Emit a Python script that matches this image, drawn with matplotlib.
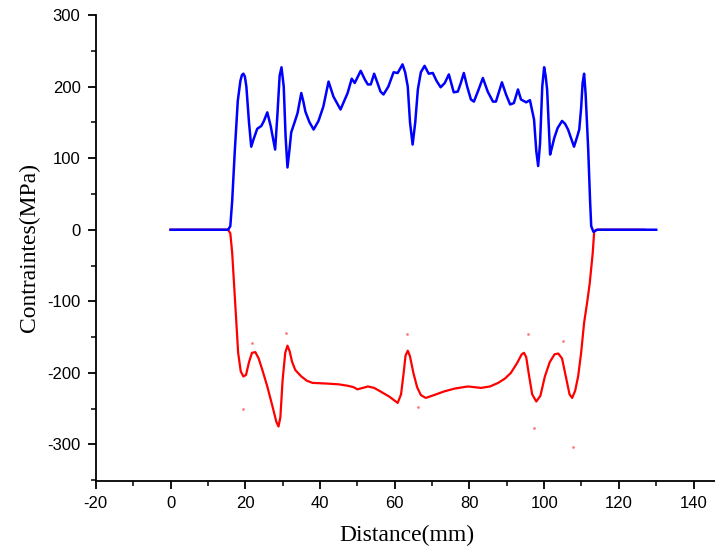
import matplotlib
matplotlib.use("Agg")
import matplotlib.pyplot as plt
from matplotlib.ticker import MultipleLocator

plt.rcParams["axes.unicode_minus"] = False

# Upper (tensile) stress profile along the weld line
dist_upper = [0, 15.4, 16.0, 16.5, 17.2, 18.0, 18.7, 19.1, 19.5, 19.9, 20.3, 21.0, 21.6, 22.2,
              23.2, 24.3, 25.0, 25.9, 26.8, 28.0, 28.6, 29.2, 29.7, 30.3, 30.8,
              31.3, 31.8, 32.3, 33.2, 34.0, 35.0, 35.6, 36.1, 37.2, 38.3, 39.6,
              40.9, 42.3, 43.6, 45.5, 47.4, 48.5, 49.3, 50.9, 52.0, 52.8, 53.6,
              54.5, 55.4, 56.2, 57.0, 58.3, 59.7, 60.8, 62.1, 62.8, 63.5, 64.1,
              64.8, 65.5, 66.2, 67.0, 68.0, 69.1, 70.2, 71.2, 72.3, 73.4, 74.5,
              75.8, 76.9, 77.7, 78.5, 79.4, 80.4, 81.2, 82.4, 83.6, 84.9, 86.3,
              87.1, 88.7, 89.8, 90.9, 91.9, 93.0, 93.8, 95.2, 96.2, 97.3, 97.9,
              98.4, 98.9, 99.5, 100.0, 100.4, 100.8, 101.2, 101.6, 102.1, 102.7,
              103.6, 104.8, 105.6, 106.4, 107.2, 108.0, 108.9, 109.4, 109.9,
              110.3, 110.7, 111.1, 111.8, 112.3, 112.6, 113.2, 114.2, 130.0]
stress_upper = [0, 0, 5, 40, 110, 180, 208, 216, 218, 214, 200, 150, 116, 126,
                141, 145, 152, 164, 145, 112, 160, 215, 227, 200, 130,
                87, 110, 136, 150, 163, 191, 178, 165, 150, 140, 152,
                172, 207, 186, 168, 191, 211, 205, 222, 210, 203, 203,
                218, 205, 193, 189, 200, 220, 219, 231, 220, 200, 150,
                119, 150, 196, 220, 229, 218, 219, 208, 199, 205, 217,
                192, 193, 205, 219, 200, 182, 179, 195, 212, 193, 179,
                179, 206, 189, 175, 177, 196, 182, 178, 181, 154, 110,
                89, 120, 200, 227, 215, 196, 150, 105, 115, 128,
                142, 152, 148, 140, 128, 116, 131, 140, 170,
                205, 218, 190, 112, 40, 5, -3, 0, 0]

# Lower (compressive) stress profile
dist_lower = [0, 15.4, 16.0, 16.5, 17.3, 18.1, 18.8, 19.5, 20.2, 21.0, 21.8, 22.7,
              23.6, 24.7, 25.9, 27.2, 28.3, 28.9, 29.4, 30.0, 30.7, 31.3, 31.9,
              32.5, 33.4, 35.0, 36.5, 38.0, 42.0, 45.0, 47.4, 49.0, 50.0, 51.5,
              52.8, 54.5, 56.2, 58.5, 60.8, 61.7, 62.4, 62.9, 63.5, 64.1, 65.0,
              66.0, 67.0, 68.3, 70.0, 73.2, 76.0, 79.6, 83.1, 85.5, 87.7, 89.5,
              91.1, 92.8, 94.0, 94.6, 95.2, 96.0, 96.8, 97.9, 99.0, 100.2, 101.5,
              102.8, 103.8, 104.8, 105.8, 106.8, 107.5, 108.3, 109.1, 109.9,
              110.7, 111.5, 112.2, 113.0, 113.4, 114.0, 126.8]
stress_lower = [0, 0, -5, -32, -102, -172, -198, -205, -203, -185, -172, -171,
                -180, -198, -219, -245, -268, -275, -262, -210, -172, -162, -170,
                -184, -196, -205, -211, -214, -215, -216, -218, -220, -223, -221,
                -219, -221, -226, -233, -242, -230, -200, -176, -169, -177, -200,
                -220, -231, -235, -232, -226, -222, -219, -221, -219, -214, -208,
                -200, -186, -174, -172, -178, -205, -230, -240, -232, -205, -185,
                -174, -173, -180, -205, -230, -235, -225, -205, -172,
                -130, -102, -75, -33, -2, 0, 0]

# Isolated scattered measurements near the compressive profile
scatter_dist = [19.5, 21.9, 31.0, 63.2, 66.2, 95.7, 97.3, 105.1, 107.8]
scatter_stress = [-250, -158, -144, -145, -248, -145, -277, -155, -303]

x_ticks = [-20, 0, 20, 40, 60, 80, 100, 120, 140]
y_ticks = [-300, -200, -100, 0, 100, 200, 300]

fig = plt.figure(figsize=(7.15, 5.56), dpi=100)
ax = fig.add_axes([0.134, 0.135, 0.87, 0.838])

ax.plot(dist_lower, stress_lower, color="#ff0000", lw=1.6, zorder=2,
        solid_joinstyle="round")
ax.plot(dist_upper, stress_upper, color="#0000ff", lw=1.8, zorder=3,
        solid_joinstyle="round")
ax.plot(scatter_dist, scatter_stress, ls="none", marker="o", ms=1.2,
        color="#ff0000", alpha=0.35, zorder=1)

ax.set_xlim(-20, 146.5)
ax.set_ylim(-351, 300)
ax.set_xticks(x_ticks)
ax.set_yticks(y_ticks)
ax.xaxis.set_minor_locator(MultipleLocator(10))
ax.yaxis.set_minor_locator(MultipleLocator(50))

for side in ("top", "right"):
    ax.spines[side].set_visible(False)
for side in ("left", "bottom"):
    ax.spines[side].set_linewidth(1.3)

ax.tick_params(which="major", direction="out", length=6, width=1.3,
               labelsize=12, pad=5)
ax.tick_params(which="minor", direction="out", length=3.5, width=1.1)
for lab in ax.get_xticklabels() + ax.get_yticklabels():
    lab.set_fontfamily("Liberation Sans")

ax.set_xlabel("Distance(mm)", fontfamily="Liberation Serif", fontsize=17,
              labelpad=10)
ax.set_ylabel("Contraintes(MPa)", fontfamily="Liberation Serif", fontsize=17,
              labelpad=5)

fig.savefig("out.png", dpi=100)
